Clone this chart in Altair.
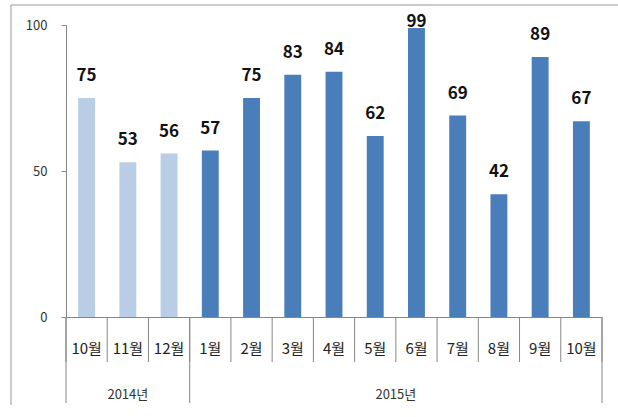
import altair as alt
import pandas as pd

# ---- data ----
years = ["2014년"] * 3 + ["2015년"] * 10
months = ["10월", "11월", "12월", "1월", "2월", "3월", "4월", "5월", "6월", "7월", "8월", "9월", "10월"]
values = [75, 53, 56, 57, 75, 83, 84, 62, 99, 69, 42, 89, 67]
year_names = ["2014년", "2015년"]
year_start = [0, 3]
year_end = [3, 13]
month_bounds = list(range(0, 14))
year_bounds = [0, 3, 13]
colors = ["#B9CDE5", "#4A7EBB"]

df = pd.DataFrame({"year": years, "month": months, "value": values})
df["key"] = df["year"] + " " + df["month"]
order = list(df["key"])

ydf = pd.DataFrame({"year": year_names, "start": year_start, "end": year_end})
ydf["mid"] = (ydf["start"] + ydf["end"]) / 2
mdf = pd.DataFrame({"pos": month_bounds})
bdf = pd.DataFrame({"pos": year_bounds})

W, H = 536, 292
FONT = "Noto Sans CJK KR"
AX = "#868686"

x_band = alt.X(
    "key:N",
    sort=order,
    scale=alt.Scale(paddingInner=0.59, paddingOuter=0.295),
    axis=alt.Axis(
        title=None,
        labelExpr="split(datum.label, ' ')[1]",
        labelAngle=0,
        ticks=False,
        tickSize=0,
        labelPadding=31,
        labelBaseline="middle",
        domainColor=AX,
        labelFont=FONT,
        labelFontSize=15,
        labelColor="#222222",
    ),
)
y_scale = alt.Scale(domain=[0, 100], nice=False)
y_axis = alt.Axis(
    title=None,
    values=[0, 50, 100],
    grid=False,
    tickSize=5,
    labelPadding=14,
    domainColor=AX,
    tickColor=AX,
    labelFont=FONT,
    labelFontSize=13,
    labelColor="#333333",
)

bars = alt.Chart(df).mark_bar().encode(
    x=x_band,
    y=alt.Y("value:Q", scale=y_scale, axis=y_axis),
    color=alt.Color("year:N", scale=alt.Scale(domain=year_names, range=colors), legend=None),
)

labels = alt.Chart(df).transform_calculate(
    ly="min(datum.value + 7.5, 101)"
).mark_text(
    font=FONT, fontSize=17, fontWeight="bold", color="#111111", baseline="middle"
).encode(
    x=x_band,
    y=alt.Y("ly:Q", scale=y_scale, axis=y_axis),
    text=alt.Text("value:Q"),
)

bar_layer = alt.layer(bars, labels)

xlin = alt.Scale(domain=[0, 13], nice=False, zero=False)

month_sep = alt.Chart(mdf).mark_rule(color=AX, strokeWidth=1).encode(
    x=alt.X("pos:Q", scale=xlin, axis=None),
    y=alt.value(H),
    y2=alt.value(H + 45),
)
year_sep = alt.Chart(bdf).mark_rule(color=AX, strokeWidth=1).encode(
    x=alt.X("pos:Q", scale=xlin, axis=None),
    y=alt.value(H),
    y2=alt.value(H + 86),
)
year_text = alt.Chart(ydf).mark_text(
    font=FONT, fontSize=13, color="#333333", baseline="middle"
).encode(
    x=alt.X("mid:Q", scale=xlin, axis=None),
    y=alt.value(H + 78),
    text="year:N",
)
one = pd.DataFrame({"a": [0]})
frame_left = alt.Chart(one).mark_rule(color="#999999", strokeWidth=1).encode(
    x=alt.value(-55), y=alt.value(-20), y2=alt.value(H + 88)
)
frame_top = alt.Chart(one).mark_rule(color="#999999", strokeWidth=1).encode(
    x=alt.value(-55), x2=alt.value(W + 16), y=alt.value(-20)
)

deco = alt.layer(month_sep, year_sep, year_text, frame_left, frame_top)

chart = alt.layer(bar_layer, deco).resolve_scale(x="independent").properties(
    width=W,
    height=H,
    autosize=alt.AutoSizeParams(type="none"),
    padding={"left": 66, "top": 25, "right": 16, "bottom": 88},
    background="white",
).configure_view(stroke=None)

chart.save("out.html", embed_options={"renderer": "svg", "actions": False})
